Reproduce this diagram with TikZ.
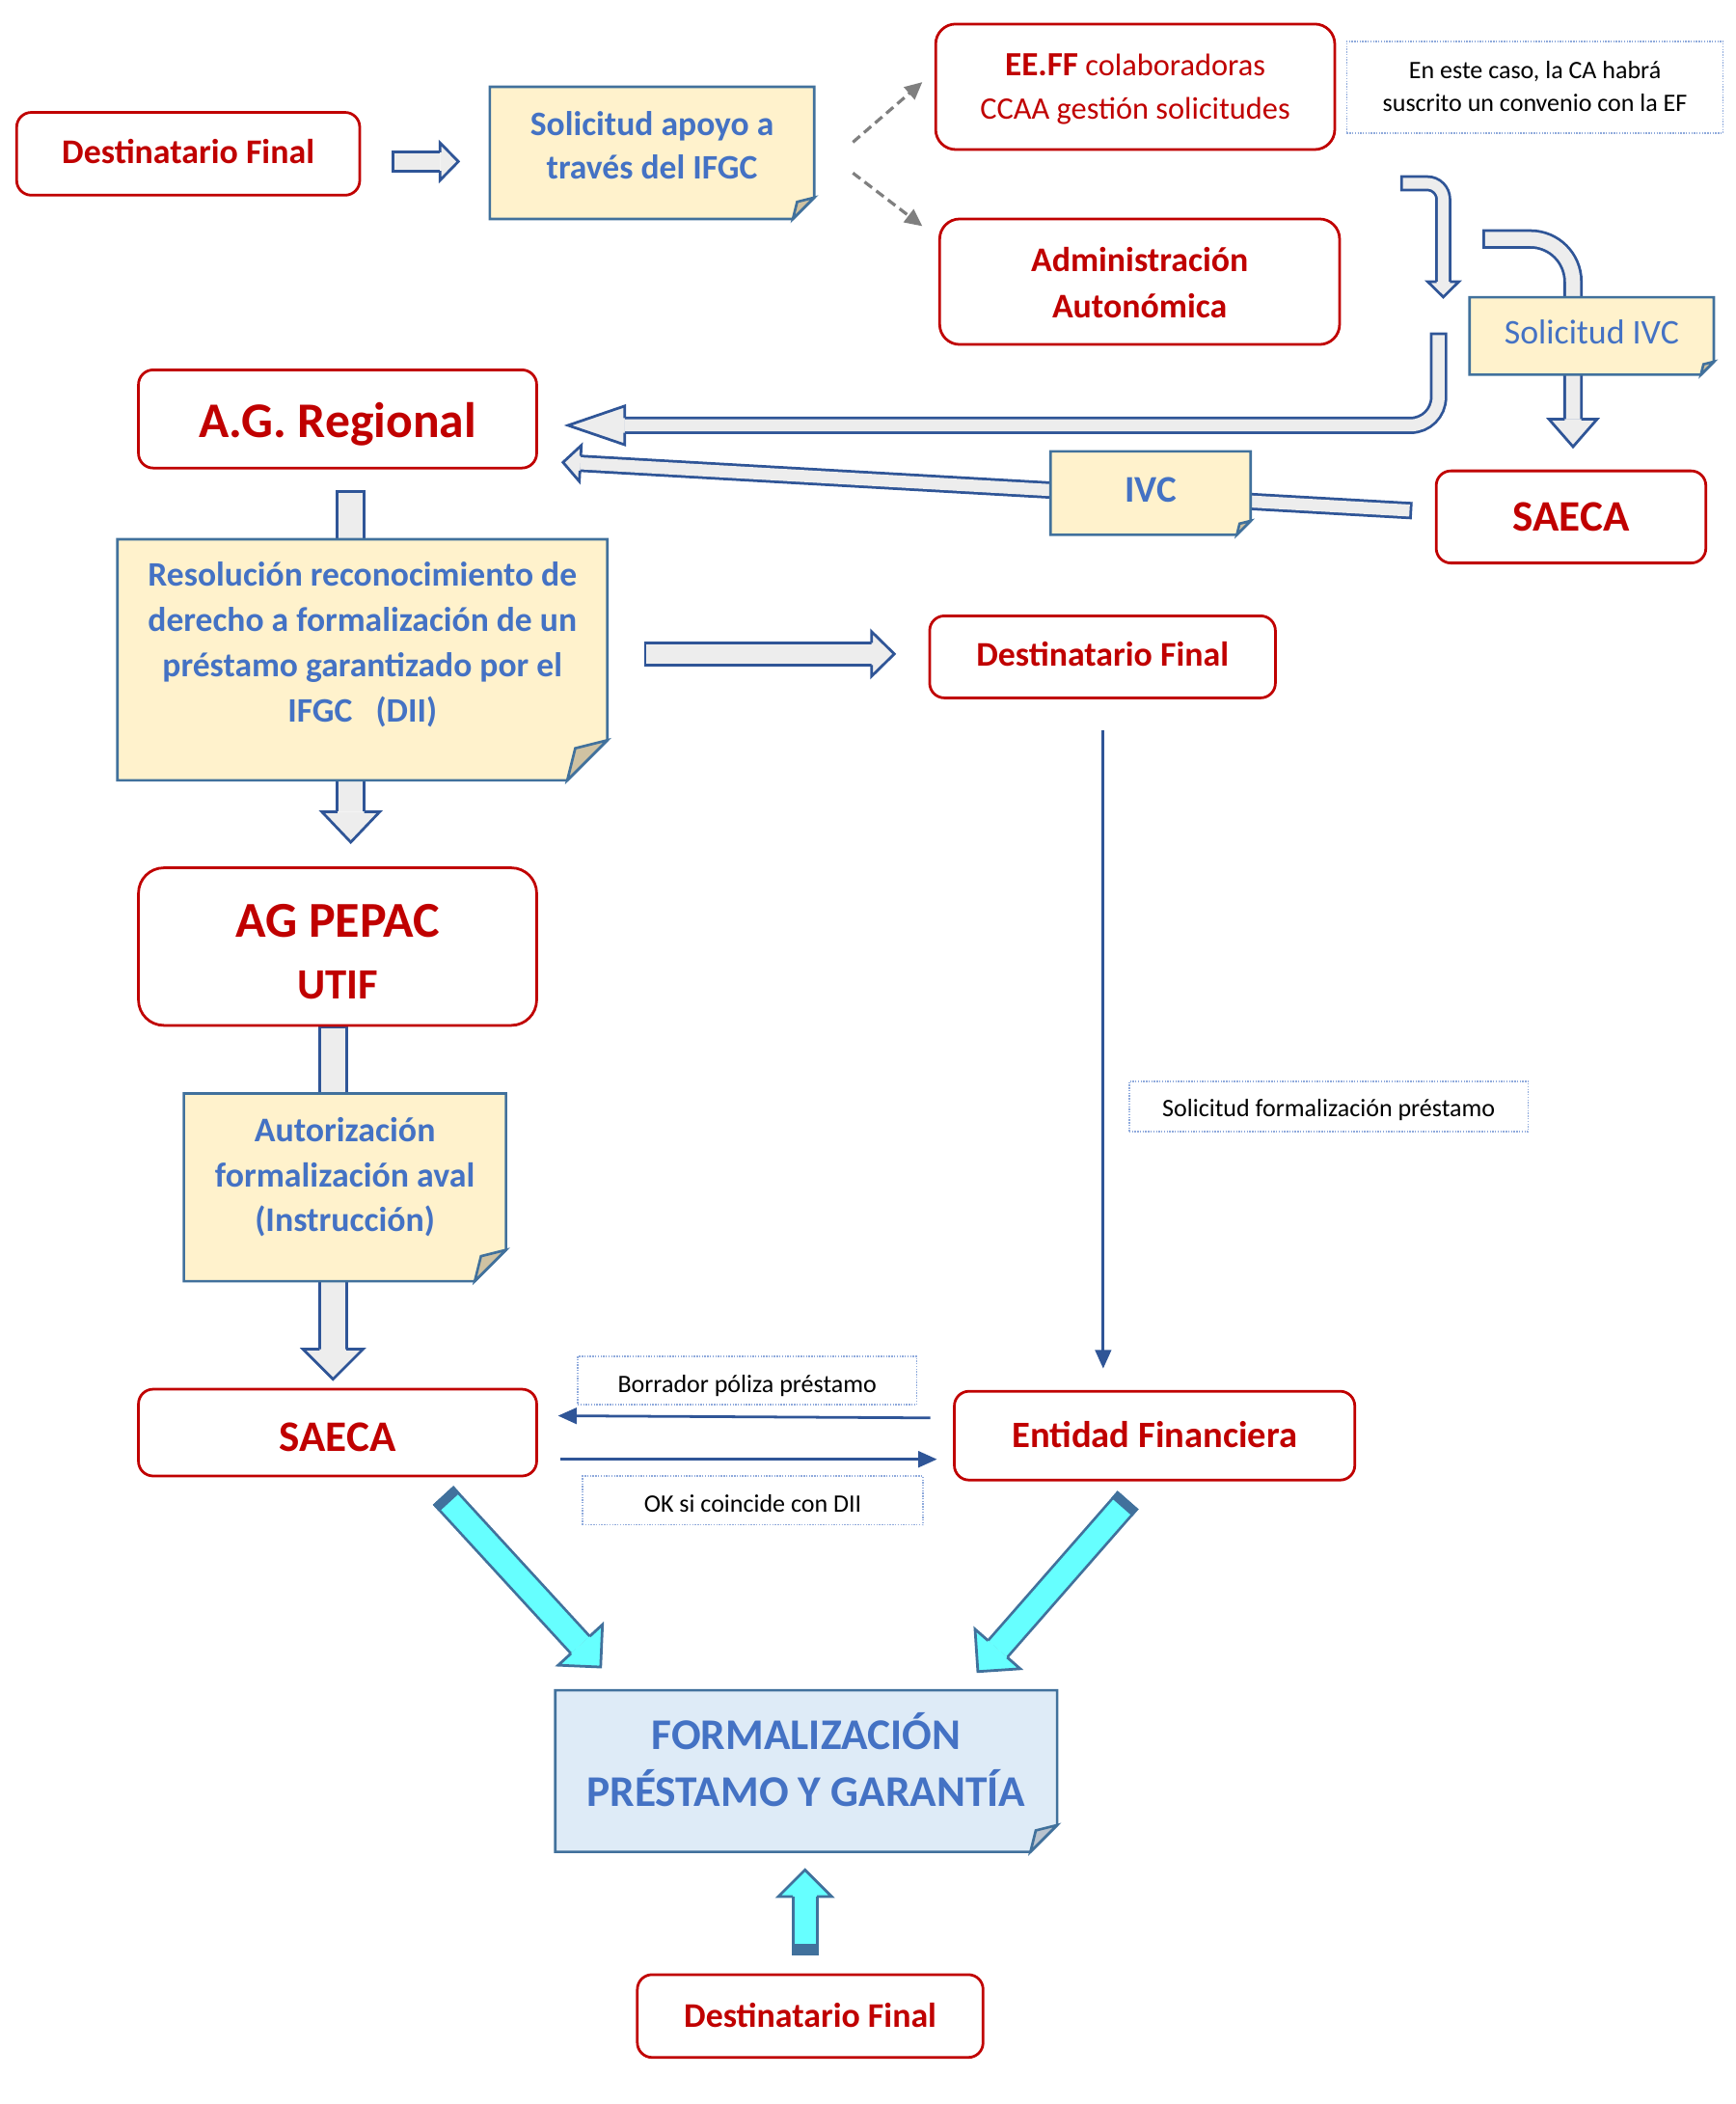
\documentclass[tikz,border=0pt]{standalone}
\usepackage{fontspec}
\setmainfont{Carlito}
\usetikzlibrary{positioning,calc,arrows.meta,backgrounds}

\definecolor{boxred}{HTML}{C00000}
\definecolor{txtblue}{HTML}{4472C4}
\definecolor{notefill}{HTML}{FFF2CC}
\definecolor{formfill}{HTML}{DEEBF7}
\definecolor{noteline}{HTML}{41719C}
\definecolor{foldtan}{HTML}{CFC2A2}
\definecolor{foldgrey}{HTML}{B9C3CE}
\definecolor{arrline}{HTML}{2F5597}
\definecolor{arrfill}{HTML}{EDEDED}
\definecolor{cyanfill}{HTML}{66FFFF}
\definecolor{dotline}{HTML}{8FAADC}
\definecolor{dashgrey}{HTML}{7F7F7F}

\newcommand{\fsz}[2]{\fontsize{#1}{#2}\selectfont}
% struts that move the text down by #1pt inside its box
\newcommand{\topstrut}[1]{\rule{0pt}{\dimexpr0.7\baselineskip+#1pt\relax}}
\newcommand{\botstrut}[1]{\rule[\dimexpr#1pt-0.3\baselineskip\relax]{0pt}{\dimexpr0.3\baselineskip-#1pt\relax}}

\tikzset{textdrop/.style={execute at begin node=\topstrut{#1}, execute at end node=\botstrut{#1}}, textdrop/.default=0}
\tikzstyle{box} = [rectangle, draw=boxred, line width=2pt, rounded corners=11pt, fill=white, text=boxred, align=center, inner sep=0pt, outer sep=0pt]
\tikzstyle{boxtext} = [text=boxred, align=center, inner sep=0pt, textdrop]
\tikzstyle{note} = [rectangle, inner sep=0pt, outer sep=0pt]
\tikzstyle{notetext} = [text=txtblue, align=center, inner sep=0pt, textdrop]
\tikzstyle{remark} = [rectangle, draw=dotline, line width=1pt, dash pattern=on 1pt off 1pt, align=center, inner sep=0pt, font=\fsz{18.8}{24.3}]
\tikzstyle{thinarrow} = [draw=arrline, line width=2pt, ->]
\tikzstyle{dasharrow} = [draw=dashgrey, line width=2.3pt, dash pattern=on 7pt off 4pt, -{Triangle[length=13pt, width=12pt]}]

% shaft of a block arrow: [options]{border}{fill}{width}{path}
\newcommand{\blockshaft}[5][]{%
  \draw[#2, line width=#4pt, #1] #5;
  \draw[#3, line width=#4pt-4pt, shorten <=2pt, #1] #5;}
% head of a block arrow: {colours}{base}{tip}{half shaft}{half head}
\newcommand{\blockhead}[5]{%
  \filldraw[line width=2pt, #1] ($(#2)!#4pt!90:(#3)$) -- ($(#2)!#5pt!90:(#3)$) -- (#3)
    -- ($(#2)!#5pt!-90:(#3)$) -- ($(#2)!#4pt!-90:(#3)$);}
% note paper with a folded corner: {node}{fill}{fold colour}{corner}
\newcommand{\foldnote}[4]{%
  \filldraw[draw=noteline, line width=1.9pt, fill=#2] (#1.north west) -- (#1.north east)
    -- ([yshift=#4pt]#1.south east) -- ([xshift=-#4pt]#1.south east) -- (#1.south west) -- cycle;
  \filldraw[draw=noteline, line width=1.9pt, fill=#3] ([xshift=-#4pt]#1.south east)
    -- ([xshift=-0.8*#4pt, yshift=0.8*#4pt]#1.south east) -- ([yshift=#4pt]#1.south east) -- cycle;}

\begin{document}
\begin{tikzpicture}[x=1pt, y=-1pt, >={Triangle[length=14pt, width=12pt]}]
    \useasboundingbox (0,0) rectangle (1299.9,1575.9);

    % request
    \node[box, minimum width=257pt, minimum height=62pt, font=\bfseries\fsz{25.9}{31}, textdrop=1] (df1) at (141,115.2) {Destinatario Final};
    \node[note, minimum width=243pt, minimum height=99pt] (sol) at (488.5,114.5) {};
    \node[notetext, font=\bfseries\fsz{25.7}{32.5}, yshift=1pt] (sol-t) at (sol) {Solicitud apoyo a\\través del IFGC};
    \node[box, minimum width=299pt, minimum height=94pt, rounded corners=15pt] (eeff) at (850.5,65) {};
    \node[boxtext, font=\fsz{23.4}{32.5}, yshift=-4.5pt] (eeff-t) at (eeff) {{\bfseries\fsz{25.4}{32.5}EE.FF} colaboradoras\\CCAA gestión solicitudes};
    \node[remark, minimum width=282pt, minimum height=68.6pt] (caso) at (1150,65.3) {};
    \node[textdrop, align=center, inner sep=0pt, font=\fsz{18.8}{24.3}, yshift=-3pt] (caso-t) at (caso) {En este caso, la CA habrá\\suscrito un convenio con la EF};
    \node[box, minimum width=299.6pt, minimum height=94pt, rounded corners=15pt] (admin) at (853.8,211) {};
    \node[boxtext, font=\bfseries\fsz{25.9}{34.5}, yshift=-6pt] (admin-t) at (admin) {Administración\\Autonómica};
    \node[note, minimum width=183pt, minimum height=58pt] (sivc) at (1192.5,251.6) {};
    \node[notetext, font=\fsz{25.9}{31}] (sivc-t) at (sivc) {Solicitud IVC};

    % resolution
    \node[box, minimum width=298.3pt, minimum height=73.5pt, font=\bfseries\fsz{37.3}{45}, textdrop=5] (agreg) at (252.9,313.8) {A.G. Regional};
    \node[box, minimum width=202pt, minimum height=69pt, font=\bfseries\fsz{32.6}{39}, textdrop=3] (saecaivc) at (1177,387.2) {SAECA};
    \node[note, minimum width=150pt, minimum height=62.5pt] (ivc) at (862,369.3) {};
    \node[notetext, font=\bfseries\fsz{28.2}{34}] (ivc-t) at (ivc) {IVC};
    \node[note, minimum width=367pt, minimum height=180.5pt] (res) at (271.5,494.2) {};
    \node[notetext, font=\bfseries\fsz{25.7}{34}, yshift=8pt] (res-t) at (res) {Resolución reconocimiento de\\derecho a formalización de un\\préstamo garantizado por el\\IFGC\ \ \ (DII)};
    \node[box, minimum width=259pt, minimum height=61.4pt, font=\bfseries\fsz{25.9}{31}, textdrop=1] (df2) at (826,492) {Destinatario Final};
    \node[remark, minimum width=299pt, minimum height=37.5pt, textdrop=3] (sfp) at (995.5,828.7) {Solicitud formalización préstamo};

    % authorisation
    \node[box, minimum width=298.3pt, minimum height=118pt, rounded corners=19pt] (pepac) at (252.9,709) {};
    \node[boxtext, font=\bfseries\fsz{37.6}{46}, yshift=-10.5pt] (pepac-t) at (pepac) {AG PEPAC\\{\fsz{32.3}{46}UTIF}};
    \node[note, minimum width=241.3pt, minimum height=140.6pt] (aut) at (258.4,889.3) {};
    \node[notetext, font=\bfseries\fsz{25.9}{33.6}, yshift=4.5pt] (aut-t) at (aut) {Autorización\\formalización aval\\(Instrucción)};
    \node[box, minimum width=298.3pt, minimum height=65pt, font=\bfseries\fsz{32.6}{39}, textdrop=6] (saeca) at (252.9,1073) {SAECA};
    \node[box, minimum width=300pt, minimum height=66.5pt, font=\bfseries\fsz{27.9}{33}, textdrop=2] (ef) at (865,1075.3) {Entidad Financiera};
    \node[remark, minimum width=254pt, minimum height=36pt, textdrop=4] (bpp) at (559.8,1034) {Borrador póliza préstamo};
    \node[remark, minimum width=255pt, minimum height=36.5pt, textdrop=4] (okdii) at (564,1123.8) {OK si coincide con DII};

    % signing
    \node[note, minimum width=376pt, minimum height=121pt] (form) at (604,1326.5) {};
    \node[notetext, font=\bfseries\fsz{32.8}{42.5}, yshift=2pt] (form-t) at (form) {FORMALIZACIÓN\\PRÉSTAMO Y GARANTÍA};
    \node[box, minimum width=259pt, minimum height=62pt, font=\bfseries\fsz{25.9}{31}, textdrop=2] (df3) at (607,1510) {Destinatario Final};

    % ends of the block arrows
    \coordinate (a1s) at (293.6,121);   \coordinate (a1b) at (329.7,121);   \coordinate (a1t) at (343.4,121);
    \coordinate (aAs) at (1049,137.3);  \coordinate (aAc) at (1081.3,137.3); \coordinate (aAb) at (1081.3,211); \coordinate (aAt) at (1081.3,222.5);
    \coordinate (aBs) at (1110.6,179);  \coordinate (aBc) at (1178.5,179);  \coordinate (aBb) at (1178.5,314); \coordinate (aBt) at (1178.5,334.6);
    \coordinate (aCs) at (1077.8,249);  \coordinate (aCc) at (1077.8,318.6); \coordinate (aCb) at (468,318.6); \coordinate (aCt) at (425.6,318.6);
    \coordinate (aDs) at (1058,382.5);  \coordinate (aDt) at (421.8,346.3); \coordinate (aDb) at ($(aDt)!13pt!(aDs)$);
    \coordinate (aEs) at (262.8,367);   \coordinate (aEb) at (262.8,608);   \coordinate (aEt) at (262.8,630.8);
    \coordinate (aFs) at (482.4,489.8); \coordinate (aFb) at (653,489.8);   \coordinate (aFt) at (670,489.8);
    \coordinate (aGs) at (249.5,768);   \coordinate (aGb) at (249.5,1010.5); \coordinate (aGt) at (249.5,1033);
    \coordinate (cl0) at (332,1120);    \coordinate (cl2) at (450,1248.6);  \coordinate (cl1) at ($(cl2)!22.5pt!(cl0)$);
    \coordinate (cr0) at (845.1,1123.5); \coordinate (cr2) at (732.6,1252); \coordinate (cr1) at ($(cr2)!22.5pt!(cr0)$);
    \coordinate (cu0) at (603.1,1464.4); \coordinate (cu1) at (603.1,1420.5); \coordinate (cu2) at (603.1,1400.5);

    \begin{scope}[on background layer]
        \blockshaft{arrline}{arrfill}{16}{(a1s) -- (a1b)}
        \blockhead{draw=arrline, fill=arrfill}{a1b}{a1t}{7}{14}
        \blockshaft[rounded corners=12pt]{arrline}{arrfill}{12}{(aAs) -- (aAc) -- (aAb)}
        \blockhead{draw=arrline, fill=arrfill}{aAb}{aAt}{5}{11.6}
        \blockshaft[rounded corners=32pt]{arrline}{arrfill}{14.5}{(aBs) -- (aBc) -- (aBb)}
        \blockhead{draw=arrline, fill=arrfill}{aBb}{aBt}{6.25}{18}
        \blockshaft[rounded corners=21pt]{arrline}{arrfill}{13}{(aCs) -- (aCc) -- (aCb)}
        \blockhead{draw=arrline, fill=arrfill}{aCb}{aCt}{5.5}{14.5}
        \blockshaft{arrline}{arrfill}{13}{(aDs) -- (aDb)}
        \blockhead{draw=arrline, fill=arrfill}{aDb}{aDt}{5.5}{13.5}
        \blockshaft{arrline}{arrfill}{22}{(aEs) -- (aEb)}
        \blockhead{draw=arrline, fill=arrfill}{aEb}{aEt}{10}{21.7}
        \blockshaft{arrline}{arrfill}{18.5}{(aFs) -- (aFb)}
        \blockhead{draw=arrline, fill=arrfill}{aFb}{aFt}{8.25}{16.7}
        \blockshaft{arrline}{arrfill}{22}{(aGs) -- (aGb)}
        \blockhead{draw=arrline, fill=arrfill}{aGb}{aGt}{10}{22.5}

        % cyan arrows into the signing
        \blockshaft{noteline}{cyanfill}{21}{(cl0) -- (cl1)}
        \draw[noteline, line width=21pt] (cl0) -- ($(cl0)!7pt!(cl1)$);
        \blockhead{draw=noteline, fill=cyanfill}{cl1}{cl2}{9.5}{22.5}
        \blockshaft{noteline}{cyanfill}{21}{(cr0) -- (cr1)}
        \draw[noteline, line width=21pt] (cr0) -- ($(cr0)!7pt!(cr1)$);
        \blockhead{draw=noteline, fill=cyanfill}{cr1}{cr2}{9.5}{22.5}
        \blockshaft{noteline}{cyanfill}{20}{(cu0) -- (cu1)}
        \draw[noteline, line width=20pt] (cu0) -- ($(cu0)!8.4pt!(cu1)$);
        \blockhead{draw=noteline, fill=cyanfill}{cu1}{cu2}{9}{20}

        % the notes lie over the arrows
        \foldnote{sol}{notefill}{foldtan}{16}
        \foldnote{sivc}{notefill}{foldtan}{9.7}
        \foldnote{ivc}{notefill}{foldtan}{10.4}
        \foldnote{res}{notefill}{foldtan}{30}
        \foldnote{aut}{notefill}{foldtan}{23.4}
        \foldnote{form}{formfill}{foldgrey}{20}
    \end{scope}

    \draw[dasharrow] ($(sol.east)+(29,-8)$) -- ($(eeff.west)+(-10,-3.5)$);
    \draw[dasharrow] ($(sol.east)+(29,15.1)$) -- ($(admin.west)+(-13,-41.6)$);
    \draw[thinarrow] ($(df2.south)+(0.5,24.3)$) -- ($(ef.north)+(-38.5,-17)$);
    \draw[thinarrow] ($(ef.west)+(-18,-13.3)$) -- ($(saeca.east)+(16,-12.6)$);
    \draw[thinarrow] ($(saeca.east)+(17.5,20)$) -- ($(ef.west)+(-13,17.7)$);
\end{tikzpicture}
\end{document}
